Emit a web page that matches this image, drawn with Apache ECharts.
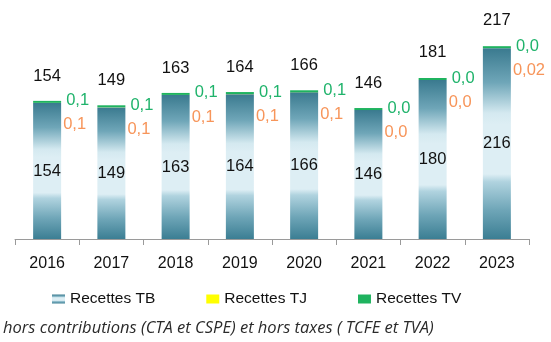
<!DOCTYPE html>
<html>
<head>
<meta charset="utf-8">
<script src="https://cdn.jsdelivr.net/npm/echarts@6/dist/echarts.min.js"></script>
<style>
  html, body { margin: 0; padding: 0; background: #ffffff; }
  #chart { width: 551px; height: 342px; }
</style>
</head>
<body>
<div id="chart"></div>
<script>
// Recettes par année (M€)
const years = ['2016', '2017', '2018', '2019', '2020', '2021', '2022', '2023'];
const recettesTB = [154, 149, 163, 164, 166, 146, 180, 216];
const recettesTJ = [0.1, 0.1, 0.1, 0.1, 0.1, 0, 0, 0.02];
const recettesTV = [0.1, 0.1, 0.1, 0.1, 0.1, 0, 0, 0];
const totals = [154, 149, 163, 164, 166, 146, 181, 217];
const footnote = 'hors contributions (CTA et CSPE) et hors taxes ( TCFE et TVA)';

const FONT = 'Liberation Sans';
const TEXT = '#111111';
const fmtComma = v => (Number.isInteger(v) ? v.toFixed(1) : String(v)).replace('.', ',');
const fmtOne = v => v.toFixed(1).replace('.', ',');

// Vertical gradient of the TB bars: dark ends, pale band in the middle
const tbGradient = new echarts.graphic.LinearGradient(0, 0, 0, 1, [
  { offset: 0, color: '#3a7a8f' },
  { offset: 0.18, color: '#6fa6b8' },
  { offset: 0.34, color: '#d4e9f0' },
  { offset: 0.40, color: '#ddeef4' },
  { offset: 0.66, color: '#ddeef4' },
  { offset: 0.70, color: '#b0d3df' },
  { offset: 0.85, color: '#6ea5b7' },
  { offset: 1, color: '#3b7e93' }
]);

const chart = echarts.init(document.getElementById('chart'), null, { renderer: 'canvas' });

chart.setOption({
  animation: false,
  backgroundColor: '#ffffff',
  grid: { left: 15, right: 22, top: 27, bottom: 103 },
  legend: {
    data: ['Recettes TB', 'Recettes TJ', 'Recettes TV'],
    left: 47,
    top: 286,
    itemWidth: 13,
    itemHeight: 9,
    itemGap: 51,
    icon: 'rect',
    textStyle: { fontFamily: FONT, fontSize: 15.5, color: TEXT }
  },
  xAxis: {
    type: 'category',
    data: years,
    axisLine: { lineStyle: { color: '#9a9a9a', width: 1 } },
    axisTick: { show: true, length: 6, lineStyle: { color: '#9a9a9a' } },
    axisLabel: { margin: 17, fontFamily: FONT, fontSize: 16, color: TEXT }
  },
  yAxis: {
    type: 'value',
    min: 0,
    max: 240,
    show: false,
    splitLine: { show: false }
  },
  series: [
    {
      name: 'Recettes TB',
      type: 'bar',
      stack: 'recettes',
      barWidth: 28,
      data: recettesTB,
      itemStyle: { color: tbGradient },
      label: {
        show: true,
        position: 'inside',
        fontFamily: FONT,
        fontSize: 16.5,
        color: TEXT,
        textBorderWidth: 0
      }
    },
    {
      name: 'Recettes TJ',
      type: 'bar',
      stack: 'recettes',
      barWidth: 28,
      data: recettesTJ,
      itemStyle: { color: '#ffff00' },
      label: {
        show: true,
        position: 'right',
        distance: 2,
        offset: [0, 22],
        formatter: p => fmtComma(p.value),
        fontFamily: FONT,
        fontSize: 16.5,
        color: '#f7955a',
        textBorderWidth: 0
      }
    },
    {
      name: 'Recettes TV',
      type: 'bar',
      stack: 'recettes',
      barWidth: 28,
      barMinHeight: 2,
      data: recettesTV,
      itemStyle: { color: '#1fb35f' },
      label: {
        show: true,
        position: 'right',
        distance: 5,
        offset: [0, -1],
        formatter: p => fmtOne(p.value),
        fontFamily: FONT,
        fontSize: 16.5,
        color: '#1fb36b',
        textBorderWidth: 0
      }
    },
    {
      // totals written above each stacked bar
      name: 'Total',
      type: 'scatter',
      data: totals,
      symbolSize: 1,
      silent: true,
      itemStyle: { color: 'rgba(0,0,0,0)', opacity: 1 },
      label: {
        show: true,
        position: 'top',
        distance: 18,
        fontFamily: FONT,
        fontSize: 16.5,
        color: TEXT,
        textBorderWidth: 0
      }
    }
  ],
  graphic: [
    {
      type: 'text',
      left: 3,
      top: 320,
      style: {
        text: footnote,
        font: 'italic 16.5px "Open Sans"',
        fill: '#2a2a2a'
      }
    }
  ]
});
</script>
</body>
</html>
